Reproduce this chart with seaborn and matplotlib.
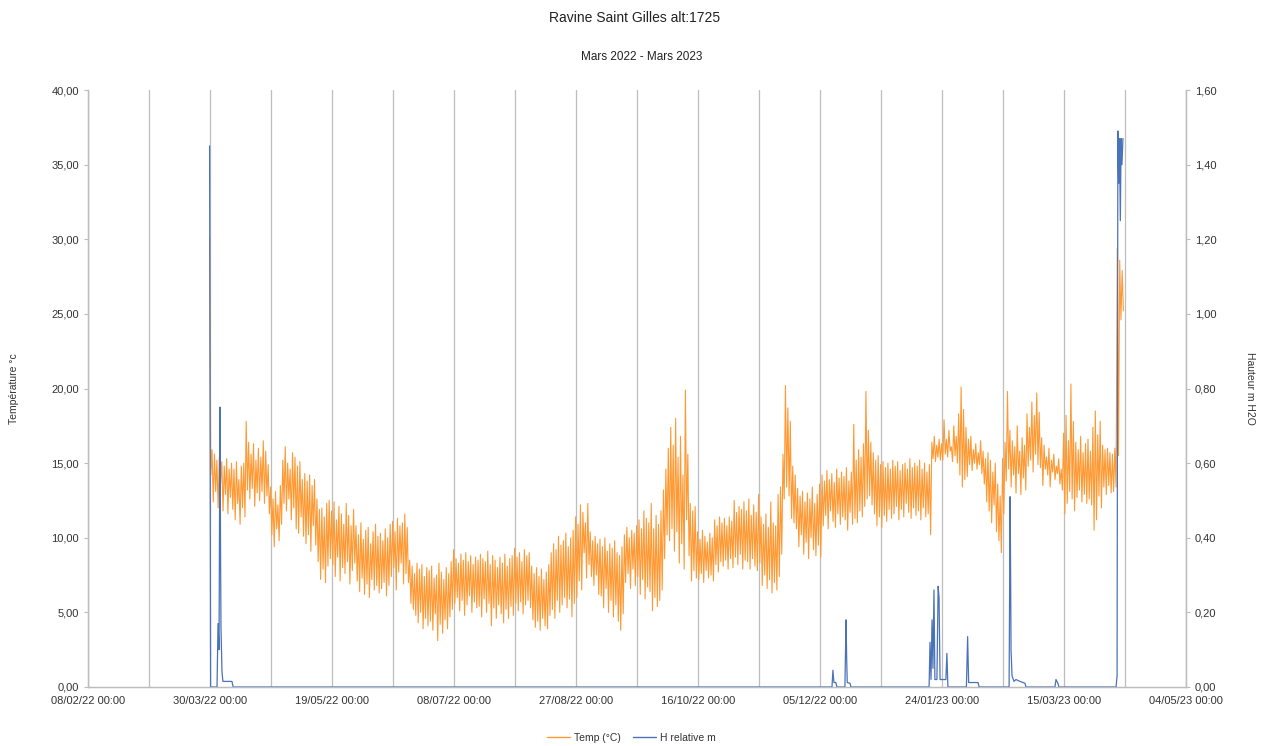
import matplotlib
matplotlib.use("Agg")
import matplotlib.pyplot as plt
import matplotlib.dates as mdates
from matplotlib.ticker import FuncFormatter, FixedLocator
import numpy as np
import pandas as pd
import seaborn as sns

# ---------------------------------------------------------------------------
# Data
# ---------------------------------------------------------------------------
title = "Ravine Saint Gilles alt:1725"
subtitle = "Mars 2022 - Mars 2023"
temp_label = "Temp (°C)"
h_label = "H relative m"

# Temperature: daily maximum and minimum (°C), one value per day from 29/03/22 evening
temp_start = "2022-03-29 20:00"
temp_max = [
    30.1, 15.9, 15.6, 15.2, 15.4, 15.1, 14.8, 15.3, 14.6, 15.0,
    14.6, 15.1, 13.9, 14.8, 15.0, 17.8, 16.4, 15.6, 16.3, 15.2,
    16.0, 15.4, 16.5, 15.8, 14.9, 13.4, 12.6, 13.1, 12.2, 13.5,
    15.2, 16.1, 15.0, 14.6, 15.7, 15.4, 14.8, 15.1, 13.9, 14.3,
    13.8, 14.2, 13.5, 13.9, 12.6, 11.9, 12.0, 11.4, 12.3, 12.5,
    11.8, 12.4, 11.2, 12.1, 11.6, 10.9, 12.3, 11.5, 10.8, 11.9,
    10.8, 10.2, 11.0, 9.9, 10.5, 10.7, 9.6, 10.4, 10.9, 10.1,
    10.3, 9.8, 10.6, 10.0, 10.9, 11.1, 10.4, 11.3, 10.8, 11.0,
    11.6, 10.7, 8.5, 8.1, 7.6, 8.3, 7.9, 8.2, 7.4, 8.0,
    7.8, 8.1, 7.3, 7.5, 8.3, 7.7, 7.2, 8.0, 7.6, 8.4,
    9.2, 8.6, 8.3, 8.9, 8.5, 9.0, 8.4, 8.8, 8.2, 8.7,
    8.5, 8.9, 8.6, 8.4, 9.1, 8.2, 8.8, 8.5, 8.0, 8.7,
    8.3, 8.9, 8.1, 8.6, 8.8, 9.3, 8.7, 9.0, 8.4, 9.2,
    8.8, 9.0, 8.1, 7.6, 8.0, 7.4, 7.9, 7.2, 7.7, 8.2,
    9.0, 9.6, 9.2, 10.1, 9.5, 9.8, 10.3, 9.4, 10.0, 10.5,
    11.4, 10.9, 12.2, 11.7, 11.0, 12.3, 10.4, 9.8, 10.1, 9.6,
    9.9, 9.4, 10.0, 9.1, 9.6, 9.3, 9.8, 9.0, 8.8, 9.4,
    10.2, 10.7, 10.0, 10.5, 10.3, 10.8, 11.2, 10.6, 11.8, 11.3,
    11.0, 12.3, 10.6, 11.5, 10.9, 11.8, 13.2, 14.6, 16.0, 17.4,
    16.2, 18.0, 15.4, 16.8, 14.2, 19.9, 15.6, 12.3, 11.8, 12.1,
    10.4, 9.9, 10.5, 10.1, 9.7, 10.3, 10.0, 11.2, 10.8, 11.4,
    11.0, 11.3, 10.8, 11.4, 11.1, 12.5, 11.7, 12.1, 11.9, 12.4,
    11.8, 12.6, 11.5, 12.2, 11.7, 12.9, 11.4, 10.9, 11.6, 10.7,
    12.4, 11.0, 10.8, 12.9, 13.4, 15.6, 20.2, 18.7, 17.8, 14.8,
    14.2, 13.3, 12.8, 13.1, 12.4, 13.0, 12.6, 13.4, 12.3, 12.9,
    13.6, 14.2, 13.8, 14.5, 13.9, 14.3, 13.7, 14.6, 14.0, 14.4,
    14.1, 14.7, 13.8, 14.4, 17.6, 15.2, 15.9, 15.4, 16.3, 19.8,
    17.2, 16.4, 15.7, 15.2, 15.5, 14.9, 15.1, 14.7, 15.0, 14.6,
    15.2, 14.8, 15.1, 14.5, 14.9, 15.0, 14.6, 15.3, 14.7, 15.0,
    14.8, 15.2, 14.6, 15.0, 14.4, 14.9, 16.4, 16.8, 16.2, 16.6,
    16.3, 17.9, 16.6, 17.2, 16.1, 17.5, 16.8, 18.3, 20.1, 18.6,
    17.4, 16.6, 16.8, 15.9, 16.3, 15.7, 16.5, 15.8, 15.3, 15.7,
    15.2, 14.4, 15.0, 13.6, 12.8, 15.3, 16.4, 19.8, 17.2, 16.5,
    16.1, 17.5, 15.8, 16.7, 16.2, 18.3, 17.4, 19.1, 18.2, 19.7,
    18.4, 16.7, 16.2, 15.4, 16.0, 15.2, 15.6, 14.8, 15.3, 14.6,
    17.0, 18.2, 16.5, 20.3, 17.8, 16.4, 15.9, 16.8, 15.7, 16.3,
    16.6, 15.8, 17.4, 18.5, 16.9, 17.8, 16.2, 15.9, 16.0, 15.7,
    15.6, 16.0, 29.4, 28.6, 27.9,
]
temp_min = [
    14.2, 12.4, 13.1, 12.0, 13.6, 11.8, 12.9, 11.6, 12.7, 11.9,
    11.2, 12.3, 10.9, 12.0, 11.4, 13.2, 12.6, 13.3, 12.1, 13.0,
    12.5, 13.1, 12.3, 12.8, 11.6, 10.2, 9.4, 10.6, 9.8, 10.9,
    12.3, 11.8, 12.6, 11.2, 12.0, 10.6, 10.3, 11.4, 10.1, 9.6,
    10.2, 9.1, 10.8, 9.5, 8.4, 7.2, 7.9, 7.0, 8.1, 8.6,
    8.2, 7.4, 8.7, 7.1, 8.0, 7.6, 8.4, 6.9, 7.8, 8.3,
    7.1, 6.4, 7.3, 6.2, 6.9, 6.0, 7.2, 6.5, 6.8, 6.3,
    6.6, 7.0, 6.1, 6.8, 7.4, 8.0, 6.5, 7.7, 8.3, 6.9,
    7.6, 7.0, 5.6, 5.2, 4.8, 4.3, 5.0, 3.9, 4.6, 4.1,
    4.4, 3.8, 4.9, 3.1, 4.2, 3.6, 4.5, 3.9, 4.7, 5.2,
    5.6, 6.0, 5.1, 5.8, 4.8, 5.5, 6.1, 5.0, 5.7, 5.3,
    5.4, 4.7, 5.9, 5.0, 5.6, 4.1, 5.3, 4.6, 5.5, 4.9,
    4.3, 5.2, 4.6, 5.4, 4.8, 5.6, 5.1, 5.7, 4.9, 5.5,
    5.8, 5.3, 4.5, 4.0, 4.4, 3.8, 4.6, 4.1, 3.9, 4.8,
    5.2, 4.6, 5.8, 5.0, 5.5, 6.0, 5.3, 5.9, 4.7, 5.6,
    6.0, 7.1, 6.5, 9.0, 7.3, 8.2, 7.4, 6.8, 7.5, 6.2,
    6.1, 5.3, 6.6, 5.0, 5.8, 4.7, 5.5, 4.4, 3.8, 4.9,
    7.0, 7.6, 6.6, 7.9, 6.8, 7.4, 6.2, 7.2, 5.9, 6.7,
    6.4, 5.1, 6.0, 5.4, 5.8, 6.5, 8.6, 10.2, 9.8, 10.6,
    9.1, 10.4, 8.3, 9.6, 7.9, 11.2, 8.8, 7.1, 7.8, 7.3,
    7.2, 7.6, 7.0, 7.8, 7.3, 7.5, 7.1, 8.2, 7.7, 8.4,
    8.1, 8.5, 7.9, 8.6, 8.0, 8.7, 8.2, 8.9, 7.9, 8.5,
    8.4, 7.9, 8.6, 8.1, 7.8, 8.3, 6.8, 7.5, 6.6, 7.2,
    6.3, 7.0, 6.5, 7.4, 8.9, 12.6, 13.4, 12.8, 11.3, 11.0,
    10.6, 9.4, 10.2, 8.9, 9.7, 8.6, 10.0, 9.2, 8.8, 9.5,
    8.7, 10.8, 11.5, 10.6, 11.8, 11.1, 10.7, 11.6, 10.9, 11.4,
    11.2, 10.5, 11.7, 10.9, 11.3, 11.0, 11.8, 11.4, 12.1, 12.6,
    12.8, 12.2, 11.6, 10.8, 11.4, 10.7, 11.5, 11.1, 11.9, 11.3,
    11.6, 12.1, 11.2, 11.9, 11.4, 12.3, 11.7, 11.3, 12.0, 11.5,
    11.8, 11.2, 12.0, 11.4, 11.6, 10.2, 15.3, 15.1, 15.4, 15.2,
    15.2, 15.6, 15.4, 15.8, 15.1, 15.5, 15.0, 14.2, 13.4, 13.9,
    14.1, 14.9, 14.5, 15.0, 14.6, 14.9, 14.3, 13.6, 12.4, 11.8,
    11.0, 12.2, 10.4, 9.8, 9.0, 11.6, 13.8, 14.6, 13.4, 14.2,
    13.0, 14.3, 12.9, 14.0, 13.2, 14.8, 15.2, 14.4, 15.6, 14.9,
    14.7, 13.5, 14.6, 14.2, 13.4, 14.4, 13.9, 14.3, 13.6, 13.2,
    11.6, 12.3, 13.1, 12.6, 11.8, 12.7, 13.2, 12.4, 12.9, 12.3,
    12.6, 12.2, 10.5, 11.2, 12.8, 12.0, 13.4, 12.9, 13.5, 13.0,
    13.1, 13.4, 15.5, 24.6, 25.2,
]

# Relative water height (m H2O): readings around each flow event, zero otherwise
h_times = [
    "2022-03-29 20:00", "2022-03-30 06:00", "2022-04-01 21:00", "2022-04-02 07:00",
    "2022-04-02 17:00", "2022-04-03 02:00", "2022-04-03 08:00", "2022-04-03 12:00",
    "2022-04-03 22:00", "2022-04-04 07:00", "2022-04-08 00:00", "2022-04-08 12:00",
    "2022-12-09 22:00", "2022-12-10 07:00", "2022-12-10 17:00", "2022-12-11 12:00",
    "2022-12-11 22:00", "2022-12-15 05:00", "2022-12-15 16:00", "2022-12-15 22:00",
    "2022-12-16 04:00", "2022-12-17 07:00", "2022-12-17 17:00",
    "2023-01-18 17:00", "2023-01-19 02:00", "2023-01-19 12:00", "2023-01-19 22:00",
    "2023-01-20 07:00", "2023-01-20 17:00", "2023-01-21 02:00", "2023-01-21 22:00",
    "2023-01-22 10:00", "2023-01-22 19:00", "2023-01-23 05:00", "2023-01-25 14:00",
    "2023-01-26 00:00", "2023-01-26 10:00",
    "2023-02-03 00:00", "2023-02-03 12:00", "2023-02-03 22:00", "2023-02-07 19:00",
    "2023-02-08 05:00",
    "2023-02-20 12:00", "2023-02-20 22:00", "2023-02-21 03:00", "2023-02-21 07:00",
    "2023-02-21 17:00", "2023-02-22 12:00", "2023-02-23 07:00", "2023-02-25 00:00",
    "2023-02-27 00:00", "2023-02-27 10:00",
    "2023-03-11 07:00", "2023-03-11 17:00", "2023-03-12 12:00", "2023-03-12 22:00",
    "2023-04-05 08:00", "2023-04-05 18:00", "2023-04-06 02:00", "2023-04-06 10:00",
    "2023-04-06 18:00", "2023-04-07 02:00", "2023-04-07 10:00", "2023-04-07 18:00",
    "2023-04-08 04:00",
]
h_values = [
    1.45, 0.0, 0.0, 0.17,
    0.10, 0.75, 0.35, 0.16,
    0.04, 0.015, 0.015, 0.0,
    0.0, 0.045, 0.012, 0.012,
    0.0, 0.0, 0.18, 0.08,
    0.012, 0.01, 0.0,
    0.0, 0.12, 0.02, 0.18,
    0.05, 0.26, 0.02, 0.02,
    0.27, 0.24, 0.02, 0.02,
    0.09, 0.0,
    0.0, 0.135, 0.012, 0.012,
    0.0,
    0.0, 0.51, 0.30, 0.10,
    0.03, 0.015, 0.02, 0.015,
    0.01, 0.0,
    0.0, 0.02, 0.01, 0.0,
    0.0, 0.03, 1.49, 1.35,
    1.47, 1.25, 1.47, 1.40,
    1.47,
]

x_start = "2022-02-08"
x_end = "2023-05-04"

# ---------------------------------------------------------------------------
# Tables for seaborn
# ---------------------------------------------------------------------------
t0 = pd.Timestamp(temp_start)
n_days = len(temp_max)
t_times, t_vals = [], []
for i in range(n_days):
    day = t0 + pd.Timedelta(days=i)
    t_times += [day, day + pd.Timedelta(hours=12)]
    t_vals += [temp_max[i], temp_min[i]]
temp_df = pd.DataFrame({"date": t_times, "temp": t_vals})
h_df = pd.DataFrame({"date": pd.to_datetime(h_times), "h": h_values})

# ---------------------------------------------------------------------------
# Figure
# ---------------------------------------------------------------------------
sns.set_theme(style="white")
plt.rcParams["font.family"] = ["Liberation Sans", "DejaVu Sans"]

orange = "#ff9933"
blue = "#4a72b8"
grid_c = "#bdbdbd"
text_c = "#333333"

fig = plt.figure(figsize=(12.63, 7.46), dpi=100)
ax = fig.add_axes([88 / 1263, 59 / 746, 1098 / 1263, 597 / 746])
ax2 = ax.twinx()

sns.lineplot(data=temp_df, x="date", y="temp", ax=ax, color=orange,
             linewidth=0.8, estimator=None, sort=False, legend=False)
sns.lineplot(data=h_df, x="date", y="h", ax=ax2, color=blue,
             linewidth=0.9, estimator=None, sort=False, legend=False)

# Axes limits
xs, xe = pd.Timestamp(x_start), pd.Timestamp(x_end)
ax.set_xlim(xs, xe)
ax.set_ylim(0, 40)
ax2.set_ylim(0, 1.6)

# Date ticks: labels every 50 days, grid every 25 days
major = pd.date_range(xs, xe, freq="50D")
minor = pd.date_range(xs, xe, freq="25D")
ax.xaxis.set_major_locator(FixedLocator(mdates.date2num(major)))
ax.xaxis.set_minor_locator(FixedLocator(mdates.date2num(minor)))
ax.xaxis.set_major_formatter(mdates.DateFormatter("%d/%m/%y %H:%M"))
ax.xaxis.grid(True, which="both", color=grid_c, linewidth=0.9)
ax.yaxis.grid(False)
ax2.grid(False)

ax.set_yticks(np.arange(0, 40.1, 5))
ax2.set_yticks(np.arange(0, 1.61, 0.2))
comma2 = FuncFormatter(lambda v, p: f"{v:.2f}".replace(".", ","))
ax.yaxis.set_major_formatter(comma2)
ax2.yaxis.set_major_formatter(comma2)

for a in (ax, ax2):
    a.tick_params(axis="both", which="major", labelsize=8, labelcolor=text_c,
                  length=3, color=grid_c, width=0.8)
    a.tick_params(axis="x", which="minor", length=0)
    for side in ("left", "right", "bottom"):
        a.spines[side].set_color(grid_c)
        a.spines[side].set_linewidth(0.9)
    a.spines["top"].set_visible(False)
    a.set_xlabel("")

ax.set_ylabel("Température °c", fontsize=7.5, color=text_c, labelpad=22)
ax2.set_ylabel("Hauteur m H2O", fontsize=7.5, color=text_c, rotation=270,
               labelpad=32)
ax.yaxis.set_label_coords(-0.063, 0.5)
ax2.yaxis.set_label_coords(1.063, 0.5)

fig.text(635 / 1263, 1 - 18 / 746, title, ha="center", va="center",
         fontsize=10, color="#222222")
fig.text(642 / 1263, 1 - 57 / 746, subtitle, ha="center", va="center",
         fontsize=8.5, color="#222222")

# Legend below the plot
handles = [
    plt.Line2D([], [], color=orange, linewidth=1.0),
    plt.Line2D([], [], color=blue, linewidth=1.0),
]
fig.legend(handles, [temp_label, h_label], loc="center",
           bbox_to_anchor=(0.5, 1 - 738 / 746), ncol=2, frameon=False,
           fontsize=7.5, handlelength=2.2, columnspacing=1.2,
           handletextpad=0.4, labelcolor=text_c)

fig.savefig("out.png", dpi=100, facecolor="white")
